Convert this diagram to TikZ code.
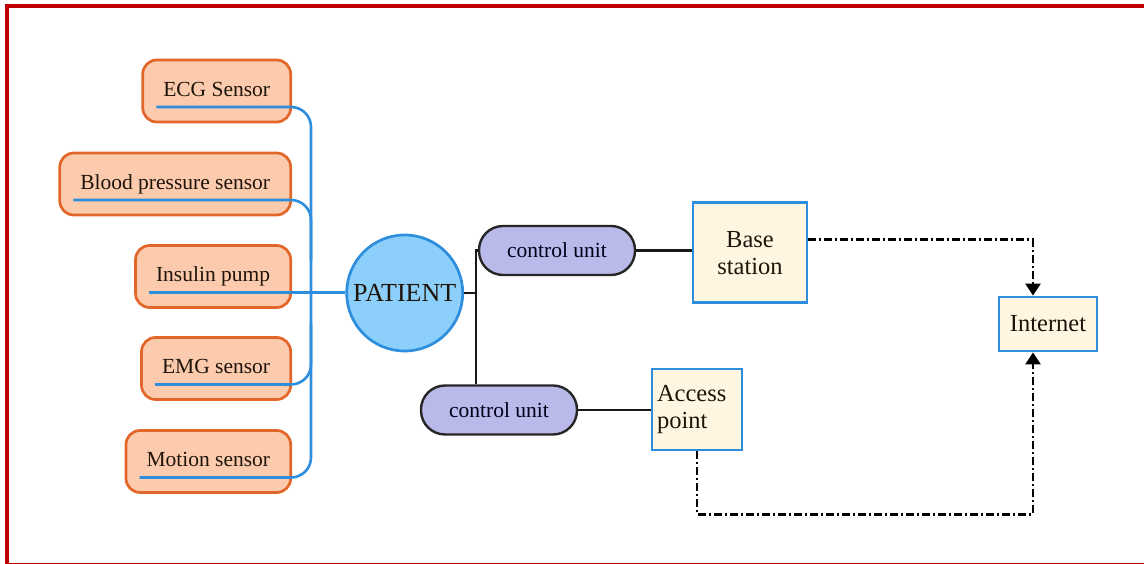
\documentclass[tikz,border=0pt]{standalone}
\usepackage{fontspec}
\setmainfont{Liberation Serif}
\usepackage{xcolor}
\usetikzlibrary{arrows.meta,calc}

\definecolor{framered}{HTML}{C00000}
\definecolor{sensorfill}{HTML}{FCCBAE}
\definecolor{sensorline}{HTML}{E2652A}
\definecolor{wireblue}{HTML}{2C8EDD}
\definecolor{patfill}{HTML}{8BCFFA}
\definecolor{cufill}{HTML}{B9B9EA}
\definecolor{boxfill}{HTML}{FFF6E2}
\definecolor{inktext}{HTML}{1E140A}

\tikzset{
  sensor/.style={draw=sensorline, fill=sensorfill, line width=2.7pt, rounded corners=14pt,
    minimum height=62pt, inner xsep=20.5pt, text height=11pt, text depth=0pt,
    anchor=east, text=inktext, font=\fontsize{21.5}{24}\selectfont},
  patient/.style={circle, draw=wireblue, fill=patfill, line width=2.7pt, minimum size=116pt,
    inner sep=0pt, text=inktext, font=\fontsize{26}{29}\selectfont},
  cunit/.style={draw=black!85, fill=cufill, line width=2.4pt, rounded corners=24pt,
    minimum width=156pt, minimum height=49pt, text=black!90!blue, font=\fontsize{21.5}{24}\selectfont},
  station/.style={draw=wireblue, fill=boxfill, line width=2.8pt, align=center, inner sep=5pt,
    text=inktext, font=\fontsize{24.5}{27}\selectfont},
  wire/.style={draw=wireblue, line width=2.6pt},
  link/.style={draw=black!90, line width=2.4pt},
  dashdot/.style={line width=2.5pt, dash pattern=on 8pt off 3pt on 2pt off 3pt,
    -{Triangle[width=15pt,length=12pt]}}
}

\begin{document}
\begin{tikzpicture}[x=1pt,y=1pt]
\useasboundingbox (0,0) rectangle (1144,564);
\draw[framered, line width=4.5pt] (7,-1) rectangle (1150,558);

\node[sensor] (ecg) at (292,473) {ECG Sensor};
\node[sensor] (bp) at (292,380) {Blood pressure sensor};
\node[sensor] (ins) at (292,287.5) {Insulin pump};
\node[sensor] (emg) at (292,195.5) {EMG sensor};
\node[sensor] (mot) at (292,102.5) {Motion sensor};

\node[patient] (pat) at (404.7,271) {PATIENT};
\node[cunit] (cu1) at (557,313.5) {control unit};
\node[cunit] (cu2) at (499,154) {control unit};
\node[station, minimum width=114pt, minimum height=100pt] (bs) at (750,311.3) {Base\\station};
\node[station, text width=80pt, align=left, minimum height=81pt] (ap) at (697,154.5) {Access\\point};
\node[station, minimum width=98pt, minimum height=54pt] (inet) at (1048,240) {Internet};

\coordinate (bus) at (311,0);
\path (ecg.west) ++(15,-16) coordinate (u1);
\path (bp.west) ++(15,-16) coordinate (u2);
\path (ins.west) ++(15,-16) coordinate (u3);
\path (emg.west) ++(15,-16) coordinate (u4);
\path (mot.west) ++(15,-16) coordinate (u5);

\draw[wire, rounded corners=20pt] (u1) -| (bus |- u5) -- (u5);
\draw[wire, rounded corners=20pt] (u2) -| ($(bus |- u2)+(0,-60)$);
\draw[wire, rounded corners=20pt] (u4) -| ($(bus |- u4)+(0,60)$);
\draw[wire] (u3) -- (u3 -| pat.west);

\coordinate (split) at (476,271);
\draw[link] (pat.east) -- (split);
\draw[link] (cu1.west) -| (split |- cu2.north);
\draw[link] (cu1.east) -- (cu1.east -| bs.west);
\draw[link] (cu2.east) -- (cu2.east -| ap.west);

\draw[dashdot] ($(bs.east)+(0,13)$) -| ($(inet.north)+(-15,0)$);
\draw[dashdot] (ap.south) -- ++(0,-63) -| ($(inet.south)+(-15,0)$);
\end{tikzpicture}
\end{document}
